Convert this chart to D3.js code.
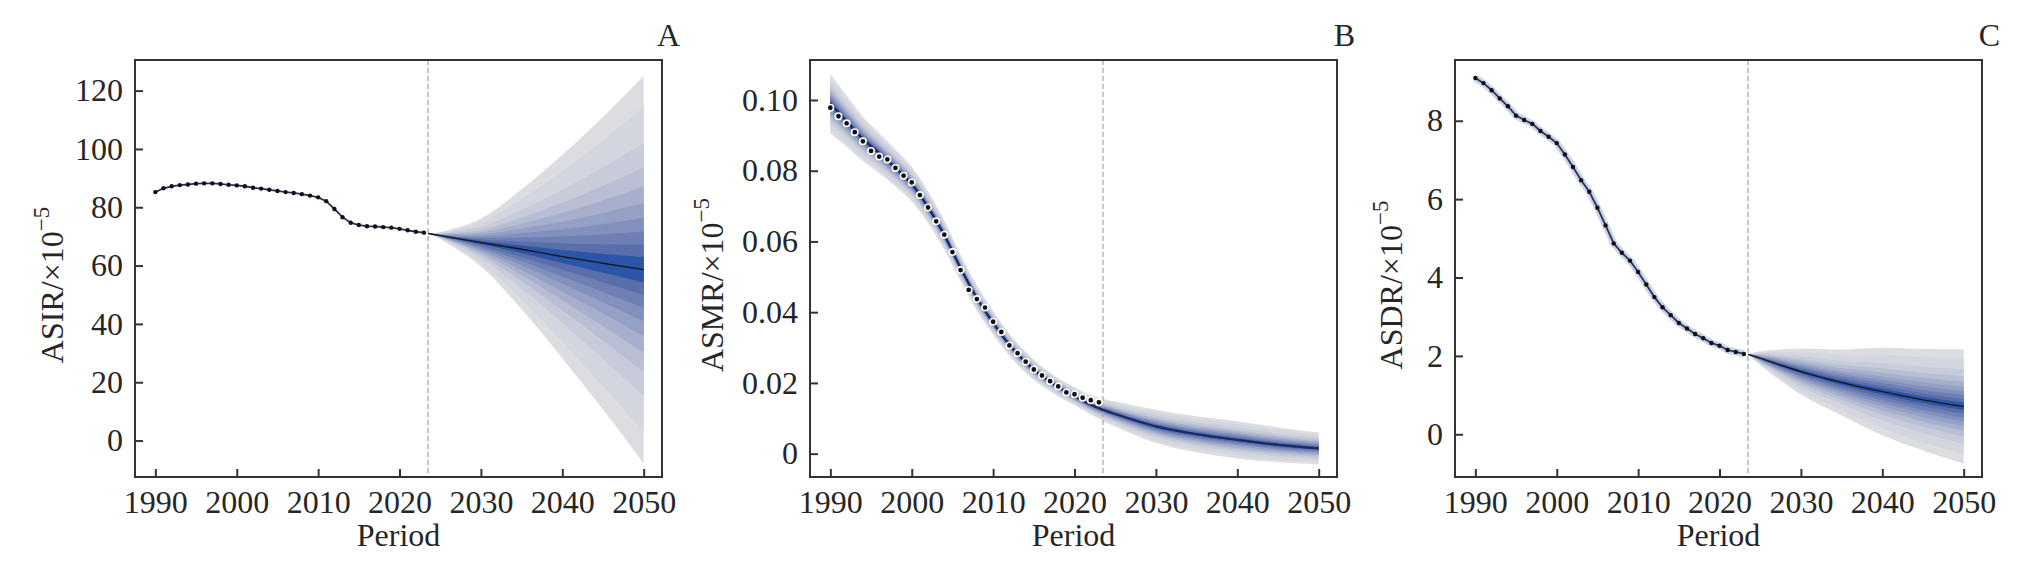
<!DOCTYPE html>
<html>
<head>
<meta charset="utf-8">
<script src="https://cdn.jsdelivr.net/npm/d3@7"></script>
<style>
  body { margin: 0; background: #fff; }
  svg text { font-family: "Liberation Serif", "Times New Roman", serif; fill: #262626; }
</style>
</head>
<body>
<svg id="chart" width="2020" height="567"></svg>
<script>
// observed years (dots)
const obsYears = [1990, 1991, 1992, 1993, 1994, 1995, 1996, 1997, 1998, 1999,
  2000, 2001, 2002, 2003, 2004, 2005, 2006, 2007, 2008, 2009,
  2010, 2011, 2012, 2013, 2014, 2015, 2016, 2017, 2018, 2019,
  2020, 2021, 2022, 2023];

const asirObs = [85.2, 86.5, 87.2, 87.6, 87.8, 88.1, 88.2, 88.2, 88.0, 87.7,
  87.5, 87.2, 86.7, 86.4, 86.0, 85.6, 85.2, 84.9, 84.5, 84.0,
  83.4, 82.1, 79.4, 76.6, 74.7, 73.9, 73.5, 73.4, 73.2, 73.0,
  72.6, 72.1, 71.6, 71.3];

const asmrObs = [0.0978, 0.0954, 0.0934, 0.0909, 0.0883, 0.0856, 0.0840, 0.0832, 0.0808, 0.0786,
  0.0767, 0.0731, 0.0696, 0.0657, 0.0619, 0.0570, 0.0519, 0.0463, 0.0437, 0.0413,
  0.0373, 0.0344, 0.0306, 0.0284, 0.0260, 0.0238, 0.0221, 0.0205, 0.0190, 0.0173,
  0.0168, 0.0158, 0.0151, 0.0145];

const asdrObs = [9.09, 8.96, 8.78, 8.57, 8.37, 8.13, 8.02, 7.92, 7.74, 7.59,
  7.43, 7.14, 6.82, 6.48, 6.19, 5.78, 5.33, 4.87, 4.63, 4.43,
  4.14, 3.82, 3.50, 3.24, 3.04, 2.84, 2.70, 2.56, 2.45, 2.33,
  2.26, 2.15, 2.10, 2.05];

// projection knots (mean and standard deviation of the prediction)
const asirProjYears = [2023.5, 2025, 2030, 2035, 2040, 2045, 2050];
const asirProjMean = [71.0, 70.3, 67.9, 65.6, 63.1, 60.8, 58.6];
const asirProjSd = [0, 0.6, 4.2, 10.5, 17.8, 25.6, 33.9];

// ASMR fitted line covers the whole period
const asmrFitYears = [1990, 1992, 1994, 1996, 1998, 2000, 2002, 2004, 2006, 2008,
  2010, 2012, 2014, 2016, 2018, 2020, 2022, 2023.5, 2025, 2030, 2035, 2040, 2045, 2050];
const asmrFitMean = [0.0990, 0.0940, 0.0890, 0.0850, 0.0808, 0.0762, 0.0697, 0.0618, 0.0525, 0.0440,
  0.0370, 0.0308, 0.0258, 0.0219, 0.0188, 0.0162, 0.0138, 0.0124, 0.0112, 0.0077, 0.0055, 0.0039, 0.0025, 0.0015];
const asmrFitSd = [0.0043, 0.0037, 0.0032, 0.0029, 0.0027, 0.0025, 0.0023, 0.0021, 0.0019, 0.0018,
  0.0017, 0.0016, 0.0015, 0.0014, 0.0013, 0.0013, 0.0014, 0.0016, 0.0018, 0.0024, 0.0026, 0.0027, 0.0025, 0.0023];

const asdrProjYears = [2023.5, 2025, 2030, 2035, 2040, 2045, 2050];
const asdrProjMean = [2.04, 1.94, 1.60, 1.32, 1.09, 0.88, 0.71];
const asdrProjSd = [0, 0.09, 0.30, 0.43, 0.57, 0.66, 0.745];

// ticks
const xTicks = [1990, 2000, 2010, 2020, 2030, 2040, 2050];
const asirTicks = [0, 20, 40, 60, 80, 100, 120];
const asmrTicks = [0, 0.02, 0.04, 0.06, 0.08, 0.10];
const asmrTickLabels = ["0", "0.02", "0.04", "0.06", "0.08", "0.10"];
const asdrTicks = [0, 2, 4, 6, 8];

// prediction interval levels, outer to inner
const fanLevels = [0.95, 0.9, 0.8, 0.7, 0.6, 0.5, 0.4, 0.3, 0.2, 0.1];
const fanZ = [1.960, 1.645, 1.282, 1.036, 0.842, 0.674, 0.524, 0.385, 0.253, 0.126];
const fanColors = ["#dcdde1", "#d3d6de", "#c7cbda", "#b8bed4", "#a7afcd",
  "#95a0c5", "#8290bd", "#6e7fb4", "#5a6eab", "#2b55a9"];

const projStart = 2023.5;

const svg = d3.select("#chart");
const TOP = 60, BOTTOM = 477, WIDTH = 527;
const FONT = 32;

function toRows(years, mean, sd) {
  return years.map((yr, i) => ({ year: yr, mean: mean[i], sd: sd[i] }));
}

function drawPanel(p) {
  const g = svg.append("g");
  const x = d3.scaleLinear().domain([1987.5, 2052.25]).range([p.left, p.left + WIDTH]);
  const y = d3.scaleLinear().domain(p.yDomain).range([BOTTOM, TOP]);

  // fan of prediction intervals
  const rows = toRows(p.bandYears, p.bandMean, p.bandSd);
  fanZ.forEach((z, i) => {
    const area = d3.area()
      .x(d => x(d.year))
      .y0(d => y(d.mean - z * d.sd))
      .y1(d => y(d.mean + z * d.sd))
      .curve(d3.curveCatmullRom.alpha(0.5));
    g.append("path").datum(rows).attr("d", area).attr("fill", fanColors[i]);
  });

  // start of projection
  g.append("line")
    .attr("x1", x(projStart)).attr("x2", x(projStart))
    .attr("y1", TOP).attr("y2", BOTTOM)
    .attr("stroke", "#aaaaaa").attr("stroke-width", 1.3)
    .attr("stroke-dasharray", "5,3");

  const obs = obsYears.map((yr, i) => ({ year: yr, v: p.obs[i] }));
  const obsLine = d3.line().x(d => x(d.year)).y(d => y(d.v));

  if (p.halo) {
    g.append("path").datum(obs).attr("d", obsLine)
      .attr("fill", "none").attr("stroke", "#cdd3e6").attr("stroke-width", 7)
      .attr("stroke-linejoin", "round");
  }
  if (p.obsLine) {
    g.append("path").datum(obs).attr("d", obsLine)
      .attr("fill", "none").attr("stroke", "#27335e").attr("stroke-width", 1.8);
  }

  // mean line of the band
  const meanLine = d3.line().x(d => x(d.year)).y(d => y(d.mean)).curve(d3.curveCatmullRom.alpha(0.5));
  g.append("path").datum(rows).attr("d", meanLine)
    .attr("fill", "none")
    .attr("stroke", p.meanColor)
    .attr("stroke-width", p.meanWidth);

  // observed dots
  g.selectAll("circle.obs").data(obs).join("circle")
    .attr("class", "obs")
    .attr("cx", d => x(d.year)).attr("cy", d => y(d.v))
    .attr("r", p.dotR)
    .attr("fill", "#111")
    .attr("stroke", p.dotStroke ? "#ffffff" : "none")
    .attr("stroke-width", p.dotStroke ? 1.6 : 0);

  // axes with inward ticks
  const xAxis = g.append("g").attr("transform", `translate(0,${BOTTOM})`)
    .call(d3.axisBottom(x).tickValues(xTicks).tickFormat(d3.format("d"))
      .tickSize(-8).tickPadding(13));
  const yAxis = g.append("g").attr("transform", `translate(${p.left},0)`)
    .call(d3.axisLeft(y).tickValues(p.ticks)
      .tickFormat((d, i) => p.tickLabels[i]).tickSize(-8).tickPadding(12));
  [xAxis, yAxis].forEach(a => {
    a.select(".domain").remove();
    a.selectAll(".tick line").attr("stroke", "#333").attr("stroke-width", 2);
    a.selectAll(".tick text").attr("font-size", FONT).attr("fill", "#262626")
      .style("font-family", "'Liberation Serif', serif");
  });
  yAxis.selectAll(".tick text").attr("dy", "0.32em");

  // frame
  g.append("rect")
    .attr("x", p.left).attr("y", TOP)
    .attr("width", WIDTH).attr("height", BOTTOM - TOP)
    .attr("fill", "none").attr("stroke", "#333").attr("stroke-width", 2);

  // axis titles
  g.append("text")
    .attr("x", p.left + WIDTH / 2).attr("y", 546)
    .attr("text-anchor", "middle").attr("font-size", FONT)
    .text("Period");

  const yl = g.append("text")
    .attr("transform", `translate(${p.labelX},285) rotate(-90)`)
    .attr("text-anchor", "middle").attr("font-size", FONT);
  yl.append("tspan").text(p.yLabel + "/×10");
  yl.append("tspan").attr("dy", -14).attr("font-size", 23).text("−5");

  // panel letter
  g.append("text")
    .attr("x", p.left + WIDTH + 18).attr("y", 46)
    .attr("text-anchor", "end").attr("font-size", FONT)
    .text(p.letter);
}

drawPanel({
  left: 135, letter: "A", yLabel: "ASIR", labelX: 63,
  yDomain: [-12.5, 130.5], ticks: asirTicks, tickLabels: asirTicks.map(String),
  obs: asirObs, obsLine: true, halo: false, dotR: 2.2, dotStroke: false,
  bandYears: asirProjYears, bandMean: asirProjMean, bandSd: asirProjSd,
  meanColor: "#151515", meanWidth: 1.3
});

drawPanel({
  left: 810, letter: "B", yLabel: "ASMR", labelX: 723,
  yDomain: [-0.0066, 0.1113], ticks: asmrTicks, tickLabels: asmrTickLabels,
  obs: asmrObs, obsLine: false, halo: false, dotR: 3.2, dotStroke: true,
  bandYears: asmrFitYears, bandMean: asmrFitMean, bandSd: asmrFitSd,
  meanColor: "#1a2a62", meanWidth: 2.2
});

drawPanel({
  left: 1455, letter: "C", yLabel: "ASDR", labelX: 1402,
  yDomain: [-1.09, 9.55], ticks: asdrTicks, tickLabels: asdrTicks.map(String),
  obs: asdrObs, obsLine: true, halo: true, dotR: 2.2, dotStroke: false,
  bandYears: asdrProjYears, bandMean: asdrProjMean, bandSd: asdrProjSd,
  meanColor: "#151515", meanWidth: 1.3
});
</script>
</body>
</html>
